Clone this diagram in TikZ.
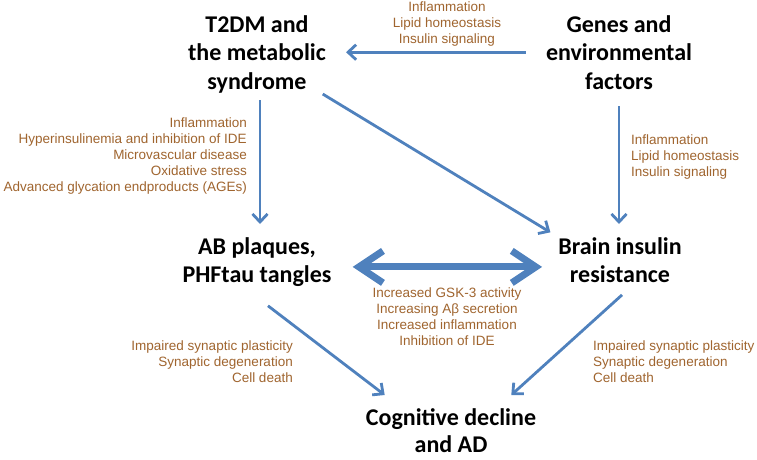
\documentclass[tikz,border=0pt]{standalone}
\usepackage{fontspec}
\setmainfont{Liberation Sans}
\newfontfamily\headfont{Carlito}
\usetikzlibrary{arrows.meta,positioning}
\definecolor{arrowblue}{HTML}{4F81BD}
\definecolor{notebrown}{HTML}{A0652F}
\tikzset{
  head/.style={
    font=\headfont\bfseries\fontsize{24}{28.5}\selectfont,
    align=center,
    inner sep=0pt,
    anchor=north
  },
  note/.style={
    font=\fontsize{13.5}{16}\selectfont,
    text=notebrown,
    inner sep=0pt
  },
  link/.style={
    draw=arrowblue,
    line width=2.8pt,
    -{Straight Barb[length=8pt,width=15pt]}
  },
  biglink/.style={
    draw=arrowblue,
    line width=7pt,
    {Straight Barb[length=24pt,width=32pt]}-{Straight Barb[length=24pt,width=32pt]}
  }
}
\begin{document}
\begin{tikzpicture}[x=1pt,y=-1pt]
  \fill[white] (0,0) rectangle (757,460);
  \useasboundingbox (0,0) rectangle (757,460);
  % main boxes
  \node[head] (t2dm) at (257,15) {T2DM and\\the metabolic\\syndrome};
  \node[head] (genes) at (619,15) {Genes and\\environmental\\factors};
  \node[head] (plaques) at (257,237) {AB plaques,\\PHFtau tangles};
  \node[head] (brain) at (620,237) {Brain insulin\\resistance};
  \node[head, font=\headfont\bfseries\fontsize{24}{27.5}\selectfont] (decline) at (451,408) {Cognitive decline\\and AD};
  % connectors
  \draw[link, shorten <=20pt, shorten >=20pt] (genes.west) -- (genes.west -| t2dm.east);
  \draw[link, shorten <=7pt, shorten >=13pt] ([xshift=3pt]t2dm.south) -- ([xshift=3pt]plaques.north);
  \draw[link, shorten <=17pt, shorten >=13pt] (genes.south) -- (genes.south |- brain.north);
  \draw[link, shorten <=2pt, shorten >=9pt] ([xshift=-5pt]t2dm.south east) -- (brain.north west);
  \draw[biglink, shorten <=21pt, shorten >=16pt] ([shift={(0,5)}]plaques.east) -- ([shift={(0,5)}]plaques.east -| brain.west);
  \draw[link] ([shift={(11,19)}]plaques.south) -- ([shift={(19,-13)}]decline.north west);
  \draw[link] ([shift={(2,12)}]brain.south) -- ([shift={(-25,-13)}]decline.north east);
  % mechanisms
  \node[note, align=center, anchor=north] (genesnote) at (447,2) {Inflammation\\Lipid homeostasis\\Insulin signaling};
  \node[note, align=right, anchor=north east] (t2dmnote) at (247,118) {Inflammation\\Hyperinsulinemia and inhibition of IDE\\Microvascular disease\\Oxidative stress\\Advanced glycation endproducts (AGEs)};
  \node[note, align=left, anchor=north west] (brainnote) at (631,135) {Inflammation\\Lipid homeostasis\\Insulin signaling};
  \node[note, align=center, anchor=north] (crossnote) at (447,288) {Increased GSK-3 activity\\Increasing Aβ secretion\\Increased inflammation\\Inhibition of IDE};
  \node[note, align=right, anchor=north east] (plaquesnote) at (293,341) {Impaired synaptic plasticity\\Synaptic degeneration\\Cell death};
  \node[note, align=left, anchor=north west] (resistnote) at (593,341) {Impaired synaptic plasticity\\Synaptic degeneration\\Cell death};
\end{tikzpicture}
\end{document}
